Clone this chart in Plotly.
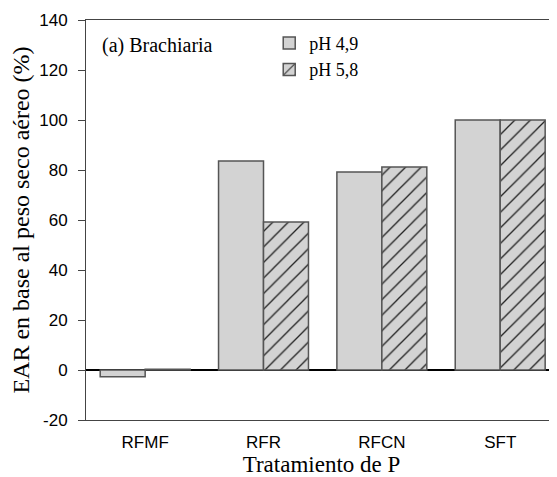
import plotly.graph_objects as go

categories = ["RFMF", "RFR", "RFCN", "SFT"]
ph49 = [-2.7, 83.6, 79.2, 100.0]
ph58 = [0.3, 59.2, 81.2, 100.0]
series_names = ["pH 4,9", "pH 5,8"]
y_ticks = [-20, 0, 20, 40, 60, 80, 100, 120, 140]
y_tick_labels = ["-20", "0", "20", "40", "60", "80", "100", "120", "140"]

fig = go.Figure()
fig.add_trace(go.Bar(
    x=categories, y=ph49, name=series_names[0],
    marker=dict(color="#d3d3d3", line=dict(color="#555555", width=1.5)),
))
fig.add_trace(go.Bar(
    x=categories, y=ph58, name=series_names[1],
    marker=dict(color="#d3d3d3", line=dict(color="#555555", width=1.5),
                pattern=dict(shape="/", fgcolor="#222222", bgcolor="#d3d3d3",
                             size=11, solidity=0.12, fillmode="replace")),
))

fig.add_annotation(text="(a) Brachiaria", xref="paper", yref="paper",
                   x=0.0297, y=0.9375, xanchor="left", yanchor="middle",
                   showarrow=False,
                   font=dict(family="Liberation Serif", size=20, color="black"))

fig.update_layout(
    width=549, height=469,
    margin=dict(l=78, r=0, t=12, b=57, autoexpand=False),
    paper_bgcolor="white", plot_bgcolor="white",
    barmode="group", bargap=0.24, bargroupgap=0,
    showlegend=True,
    legend=dict(x=0.389, y=0.988, xanchor="left", yanchor="top",
                bgcolor="rgba(0,0,0,0)", tracegroupgap=0,
                font=dict(family="Liberation Serif", size=18, color="black")),
    xaxis=dict(range=[-0.5, 3.48], showline=True, linecolor="#444444", linewidth=1,
               mirror=True, ticks="", showgrid=False, ticklabelstandoff=7,
               tickfont=dict(family="Liberation Sans", size=17, color="black"),
               title=dict(text="Tratamiento de P", standoff=10,
                          font=dict(family="Liberation Serif", size=23, color="black"))),
    yaxis=dict(range=[-20, 140], tickvals=y_ticks, ticktext=y_tick_labels,
               showline=True,
               linecolor="#444444", linewidth=1, ticks="outside", ticklen=7,
               tickcolor="#444444", showgrid=False, ticklabelstandoff=7,
               zeroline=True, zerolinecolor="black", zerolinewidth=2,
               tickfont=dict(family="Liberation Sans", size=17, color="black"),
               title=dict(text="EAR en base al peso seco aéreo (%)", standoff=8,
                          font=dict(family="Liberation Serif", size=24, color="black"))),
)

fig.write_html("out.html")
